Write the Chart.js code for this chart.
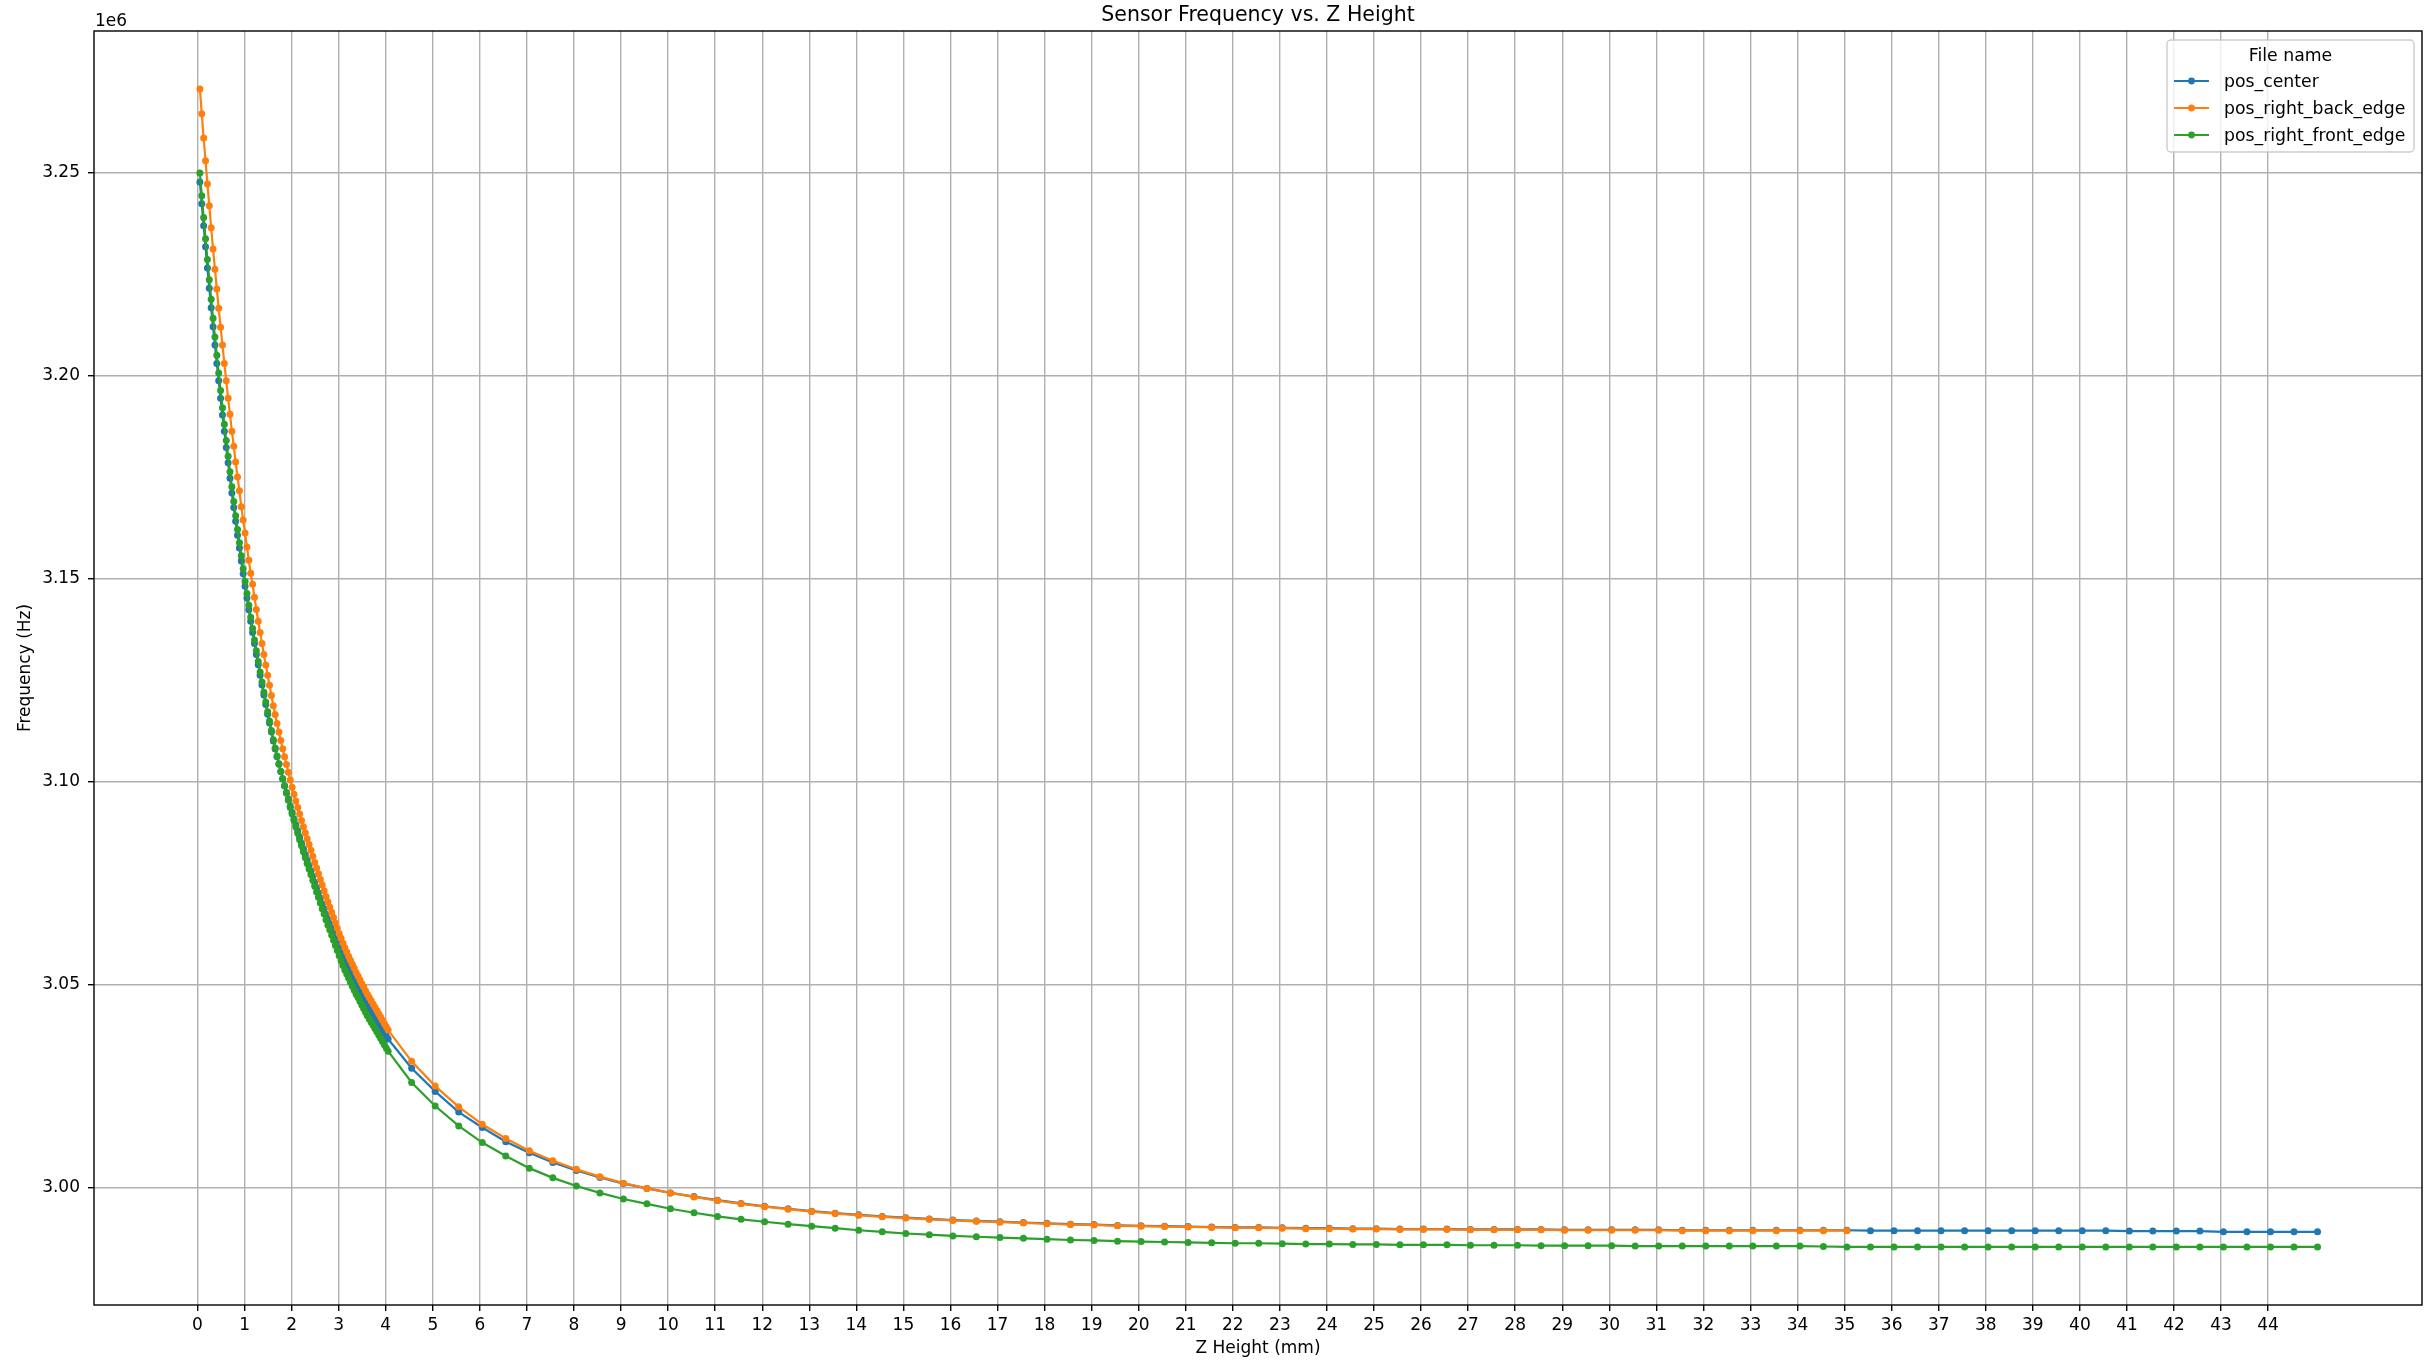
<!DOCTYPE html>
<html>
<head>
<meta charset="utf-8">
<title>Sensor Frequency vs. Z Height</title>
<script src="https://cdn.jsdelivr.net/npm/chart.js@4.4.1/dist/chart.umd.min.js"></script>
<style>
  html, body { margin: 0; padding: 0; background: #fff; }
  canvas { display: block; }
</style>
</head>
<body>
<canvas id="chart" width="2436" height="1363"></canvas>
<script>
// Z height (mm) of every sample
const zHeight = [
  0.05,0.09,0.13,0.17,0.21,0.25,0.29,0.33,0.37,0.41,
  0.45,0.49,0.53,0.57,0.61,0.65,0.69,0.73,0.77,0.81,
  0.85,0.89,0.93,0.97,1.01,1.05,1.09,1.13,1.17,1.21,
  1.25,1.29,1.33,1.37,1.41,1.45,1.49,1.53,1.57,1.61,
  1.65,1.69,1.73,1.77,1.81,1.85,1.89,1.93,1.97,2.01,
  2.05,2.09,2.13,2.17,2.21,2.25,2.29,2.33,2.37,2.41,
  2.45,2.49,2.53,2.57,2.61,2.65,2.69,2.73,2.77,2.81,
  2.85,2.89,2.93,2.97,3.01,3.05,3.09,3.13,3.17,3.21,
  3.25,3.29,3.33,3.37,3.41,3.45,3.49,3.53,3.57,3.61,
  3.65,3.69,3.73,3.77,3.81,3.85,3.89,3.93,3.97,4.01,
  4.05,
  4.55,5.05,5.55,6.05,6.55,7.05,7.55,8.05,8.55,9.05,
  9.55,10.05,10.55,11.05,11.55,12.05,12.55,13.05,13.55,14.05,
  14.55,15.05,15.55,16.05,16.55,17.05,17.55,18.05,18.55,19.05,
  19.55,20.05,20.55,21.05,21.55,22.05,22.55,23.05,23.55,24.05,
  24.55,25.05,25.55,26.05,26.55,27.05,27.55,28.05,28.55,29.05,
  29.55,30.05,30.55,31.05,31.55,32.05,32.55,33.05,33.55,34.05,
  34.55,35.05,
  35.55,36.05,36.55,37.05,37.55,38.05,38.55,39.05,39.55,40.05,
  40.55,41.05,41.55,42.05,42.55,43.05,43.55,44.05,44.55,45.05
];

// frequencies in MHz (axis shows them in Hz with a 1e6 offset)
const posCenter = [
  3.2478,3.2424,3.2370,3.2318,3.2266,3.2216,3.2168,3.2121,3.2076,3.2031,3.1988,3.1945,
  3.1904,3.1864,3.1824,3.1786,3.1748,3.1712,3.1676,3.1642,3.1608,3.1576,3.1544,3.1513,
  3.1482,3.1453,3.1424,3.1396,3.1368,3.1341,3.1314,3.1289,3.1263,3.1239,3.1214,3.1191,3.1167,3.1145,
  3.1123,3.1101,3.1081,3.1062,3.1044,3.1026,3.1008,3.0991,3.0974,3.0958,3.0940,
  3.0925,3.0909,3.0894,3.0879,3.0864,3.0849,3.0835,3.0821,3.0807,3.0794,3.0781,3.0767,3.0753,
  3.0740,3.0727,3.0714,3.0700,3.0688,3.0674,3.0662,3.0650,3.0638,3.0626,3.0613,3.0602,
  3.0590,3.0578,3.0567,3.0556,3.0547,3.0537,3.0528,3.0518,3.0509,3.0499,3.0492,3.0483,3.0475,
  3.0466,3.0458,3.0449,3.0442,3.0434,3.0428,3.0420,3.0412,3.0405,3.0397,3.0390,3.0382,3.0375,3.0367,
  3.0295,3.0238,3.0187,3.0149,3.0114,3.0087,3.0063,3.0043,3.0026,3.0011,
  2.9999,2.9988,2.9979,2.9970,2.9962,2.9955,2.9949,2.9943,2.9938,2.9934,
  2.9930,2.9927,2.9924,2.9921,2.9919,2.9917,2.9915,2.9913,2.9911,2.9910,
  2.9908,2.9907,2.9906,2.9905,2.9904,2.9903,2.9903,2.9902,2.9901,2.9901,
  2.9900,2.9900,2.9899,2.9899,2.9899,2.9898,2.9898,2.9898,2.9898,2.9897,
  2.9897,2.9897,2.9897,2.9897,2.9896,2.9896,2.9896,2.9896,2.9896,2.9896,
  2.9896,2.9896,
  2.9895,2.9895,2.9895,2.9895,2.9895,2.9895,2.9895,2.9895,2.9895,2.9895,
  2.9895,2.9894,2.9894,2.9894,2.9894,2.9892,2.9892,2.9892,2.9892,2.9892
];

const posRightBackEdge = [
  3.2707,3.2646,3.2586,3.2530,3.2473,3.2419,3.2365,3.2313,3.2263,3.2214,3.2167,3.2120,
  3.2076,3.2031,3.1988,3.1945,3.1906,3.1864,3.1827,3.1788,3.1751,3.1717,3.1678,3.1645,
  3.1613,3.1579,3.1546,3.1514,3.1487,3.1455,3.1425,3.1396,3.1368,3.1341,3.1314,3.1288,3.1263,3.1238,
  3.1213,3.1188,3.1166,3.1144,3.1123,3.1102,3.1082,3.1062,3.1043,3.1024,3.1005,
  3.0987,3.0970,3.0953,3.0937,3.0921,3.0905,3.0890,3.0875,3.0860,3.0846,3.0832,3.0817,3.0802,
  3.0788,3.0774,3.0760,3.0746,3.0732,3.0718,3.0705,3.0692,3.0679,3.0666,3.0653,3.0640,
  3.0627,3.0615,3.0603,3.0592,3.0581,3.0571,3.0561,3.0551,3.0541,3.0531,3.0522,3.0513,3.0504,
  3.0495,3.0486,3.0477,3.0469,3.0461,3.0453,3.0445,3.0437,3.0429,3.0421,3.0413,3.0405,3.0397,3.0389,
  3.0312,3.0251,3.0200,3.0157,3.0122,3.0092,3.0067,3.0046,3.0028,3.0012,
  2.9999,2.9988,2.9978,2.9969,2.9961,2.9954,2.9948,2.9942,2.9937,2.9933,
  2.9929,2.9926,2.9923,2.9920,2.9918,2.9916,2.9914,2.9912,2.9910,2.9909,
  2.9907,2.9906,2.9905,2.9904,2.9903,2.9902,2.9902,2.9901,2.9900,2.9900,
  2.9899,2.9899,2.9898,2.9898,2.9898,2.9897,2.9897,2.9897,2.9897,2.9896,
  2.9896,2.9896,2.9896,2.9896,2.9895,2.9895,2.9895,2.9895,2.9895,2.9895,
  2.9895,2.9895
];

const posRightFrontEdge = [
  3.2500,3.2444,3.2390,3.2338,3.2287,3.2237,3.2189,3.2142,3.2096,3.2051,3.2007,3.1964,
  3.1922,3.1881,3.1841,3.1802,3.1764,3.1727,3.1691,3.1656,3.1622,3.1589,3.1557,3.1525,
  3.1494,3.1464,3.1435,3.1406,3.1378,3.1350,3.1323,3.1297,3.1271,3.1246,3.1221,3.1197,3.1173,3.1150,
  3.1127,3.1104,3.1084,3.1064,3.1045,3.1026,3.1008,3.0990,3.0972,3.0955,3.0937,
  3.0921,3.0905,3.0889,3.0874,3.0858,3.0843,3.0828,3.0814,3.0799,3.0786,3.0772,3.0758,3.0743,
  3.0729,3.0716,3.0702,3.0688,3.0675,3.0661,3.0648,3.0636,3.0623,3.0610,3.0597,3.0585,
  3.0572,3.0560,3.0548,3.0537,3.0527,3.0517,3.0507,3.0497,3.0487,3.0477,3.0469,3.0460,3.0451,
  3.0442,3.0433,3.0424,3.0416,3.0408,3.0401,3.0393,3.0385,3.0377,3.0369,3.0361,3.0353,3.0345,3.0337,
  3.0260,3.0202,3.0153,3.0112,3.0079,3.0049,3.0025,3.0005,2.9988,2.9973,
  2.9961,2.9949,2.9939,2.9930,2.9923,2.9917,2.9911,2.9906,2.9901,2.9896,
  2.9892,2.9888,2.9885,2.9882,2.9880,2.9878,2.9876,2.9874,2.9872,2.9871,
  2.9869,2.9868,2.9867,2.9866,2.9865,2.9864,2.9864,2.9863,2.9862,2.9862,
  2.9861,2.9861,2.9860,2.9860,2.9860,2.9859,2.9859,2.9859,2.9858,2.9858,
  2.9858,2.9858,2.9857,2.9857,2.9857,2.9857,2.9857,2.9857,2.9857,2.9857,
  2.9856,2.9855,
  2.9855,2.9855,2.9855,2.9855,2.9855,2.9855,2.9855,2.9855,2.9855,2.9855,
  2.9855,2.9855,2.9855,2.9855,2.9855,2.9855,2.9855,2.9855,2.9855,2.9855
];

const xTicks = [0,1,2,3,4,5,6,7,8,9,10,11,12,13,14,15,16,17,18,19,20,21,22,
  23,24,25,26,27,28,29,30,31,32,33,34,35,36,37,38,39,40,41,42,43,44];
const yTicks = [3000000, 3050000, 3100000, 3150000, 3200000, 3250000];

const seriesNames = ['pos_center', 'pos_right_back_edge', 'pos_right_front_edge'];
const seriesColors = ['#1f77b4', '#ff7f0e', '#2ca02c'];
const seriesValues = [posCenter, posRightBackEdge, posRightFrontEdge];

const FONT = "'DejaVu Sans', sans-serif";

function toPoints(values) {
  return values.map((v, i) => ({ x: zHeight[i], y: v * 1e6 }));
}

// frame, title, offset text and matplotlib-like legend
const decorations = {
  id: 'decorations',
  afterDraw(chart) {
    const ctx = chart.ctx;
    const a = chart.chartArea;
    ctx.save();
    ctx.strokeStyle = '#000';
    ctx.lineWidth = 1.4;
    ctx.strokeRect(a.left, a.top, a.right - a.left, a.bottom - a.top);

    ctx.fillStyle = '#000';
    ctx.font = '20.5px ' + FONT;
    ctx.textAlign = 'center';
    ctx.textBaseline = 'alphabetic';
    ctx.fillText('Sensor Frequency vs. Z Height', (a.left + a.right) / 2, 21);

    ctx.font = '17px ' + FONT;
    ctx.textAlign = 'left';
    ctx.fillText('1e6', a.left + 1, 26);

    // legend
    const lx = 2167, ly = 40, lw = 247, lh = 112;
    ctx.beginPath();
    ctx.roundRect(lx, ly, lw, lh, 4);
    ctx.fillStyle = 'rgba(255,255,255,0.8)';
    ctx.fill();
    ctx.strokeStyle = '#cccccc';
    ctx.lineWidth = 1.4;
    ctx.stroke();

    ctx.font = '17.3px ' + FONT;
    ctx.fillStyle = '#000';
    ctx.textAlign = 'center';
    ctx.fillText('File name', lx + lw / 2, 61);

    ctx.textAlign = 'left';
    seriesNames.forEach((name, i) => {
      const y = 81 + i * 27;
      ctx.strokeStyle = seriesColors[i];
      ctx.lineWidth = 2.2;
      ctx.beginPath();
      ctx.moveTo(2174, y);
      ctx.lineTo(2209, y);
      ctx.stroke();
      ctx.fillStyle = seriesColors[i];
      ctx.beginPath();
      ctx.arc(2191.5, y, 3.4, 0, Math.PI * 2);
      ctx.fill();
      ctx.fillStyle = '#000';
      ctx.fillText(name, 2224, y + 6);
    });
    ctx.restore();
  }
};

const datasets = seriesValues.map((vals, i) => ({
  label: seriesNames[i],
  data: toPoints(vals),
  borderColor: seriesColors[i],
  backgroundColor: seriesColors[i],
  borderWidth: 2.2,
  pointRadius: 3.5,
  pointBorderWidth: 0,
  pointHoverRadius: 3.5,
  tension: 0,
  fill: false,
  order: 2 - i
}));

new Chart(document.getElementById('chart'), {
  type: 'line',
  data: { datasets: datasets },
  options: {
    responsive: false,
    animation: false,
    devicePixelRatio: 1,
    parsing: false,
    layout: { padding: { top: 31, right: 14, left: 0, bottom: 0 } },
    plugins: {
      legend: { display: false },
      title: { display: false },
      tooltip: { enabled: false }
    },
    scales: {
      x: {
        type: 'linear',
        min: -2.2,
        max: 47.27,
        afterBuildTicks: s => { s.ticks = xTicks.map(v => ({ value: v })); },
        afterFit: s => { s.height = 58; },
        border: { display: false },
        grid: { color: '#b0b0b0', lineWidth: 1.4, tickColor: '#000', tickLength: 6, tickWidth: 1.4 },
        ticks: {
          autoSkip: false, maxRotation: 0, padding: 4, color: '#000',
          font: { family: FONT, size: 17 },
          callback: v => String(v)
        },
        title: {
          display: true, text: 'Z Height (mm)', color: '#000',
          font: { family: FONT, size: 17 }, padding: { top: 4, bottom: 4 }
        }
      },
      y: {
        type: 'linear',
        min: 2971190,
        max: 3284960,
        afterBuildTicks: s => { s.ticks = yTicks.map(v => ({ value: v })); },
        afterFit: s => { s.width = 94; },
        border: { display: false },
        grid: { color: '#b0b0b0', lineWidth: 1.4, tickColor: '#000', tickLength: 6, tickWidth: 1.4 },
        ticks: {
          padding: 8, color: '#000',
          font: { family: FONT, size: 17 },
          callback: v => (v / 1e6).toFixed(2)
        },
        title: {
          display: true, text: 'Frequency (Hz)', color: '#000',
          font: { family: FONT, size: 17 }, padding: { top: 15, bottom: 0 }
        }
      }
    }
  },
  plugins: [decorations]
});
</script>
</body>
</html>
